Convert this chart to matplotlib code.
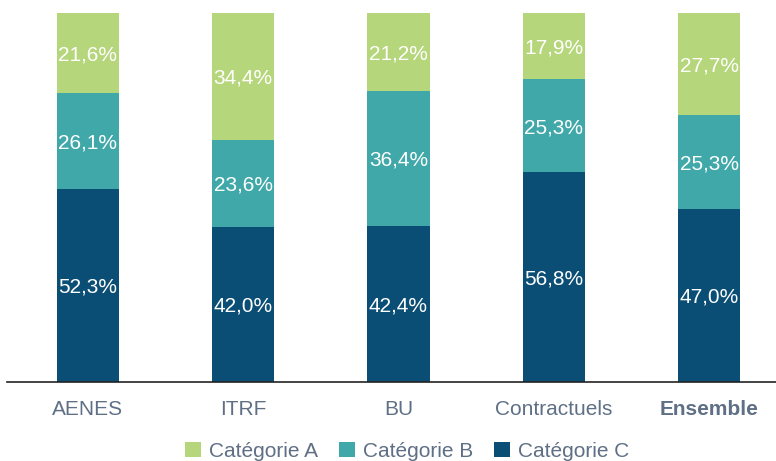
import matplotlib.pyplot as plt
import numpy as np

plt.rcParams['font.family'] = ['Liberation Sans', 'DejaVu Sans']

categories = ['AENES', 'ITRF', 'BU', 'Contractuels', 'Ensemble']
cat_c = [52.3, 42.0, 42.4, 56.8, 47.0]
cat_b = [26.1, 23.6, 36.4, 25.3, 25.3]
cat_a = [21.6, 34.4, 21.2, 17.9, 27.7]
series_names = ['Catégorie A', 'Catégorie B', 'Catégorie C']

col_a = '#b5d67a'
col_b = '#41a8a9'
col_c = '#0b4e75'
txt_col = '#5f6f85'

fig = plt.figure(figsize=(7.76, 4.61), dpi=100)
ax = fig.add_axes([7 / 776, 1 - 382 / 461, 769 / 776, 369 / 461])

x = np.arange(len(categories))
w = 0.40
bc = ax.bar(x, cat_c, w, color=col_c, label=series_names[2])
bb = ax.bar(x, cat_b, w, bottom=cat_c, color=col_b, label=series_names[1])
ba = ax.bar(x, cat_a, w, bottom=np.array(cat_c) + np.array(cat_b), color=col_a, label=series_names[0])

for bars, vals in [(bc, cat_c), (bb, cat_b), (ba, cat_a)]:
    for r, v in zip(bars, vals):
        ax.text(r.get_x() + r.get_width() / 2, r.get_y() + r.get_height() / 2 - 0.5,
                f'{v:.1f}%'.replace('.', ','), ha='center', va='center',
                color='white', fontsize=15)

ax.set_xlim(-0.52, 4.43)
ax.set_ylim(0, 100)
ax.set_yticks([])
ax.set_xticks(x)
ax.set_xticklabels(categories, fontsize=15, color=txt_col)
ax.get_xticklabels()[-1].set_fontweight('bold')
ax.tick_params(axis='x', length=0, pad=13)
for s in ['top', 'right', 'left']:
    ax.spines[s].set_visible(False)
ax.spines['bottom'].set_color('#222222')
ax.spines['bottom'].set_linewidth(1.2)

h = [ba, bb, bc]
leg = fig.legend(h, series_names, loc='lower center', bbox_to_anchor=(0.525, -0.04),
                 ncol=3, frameon=False, fontsize=15, handlelength=0.75, handleheight=0.75,
                 handletextpad=0.4, columnspacing=1.0)
for t in leg.get_texts():
    t.set_color(txt_col)

fig.savefig('out.png', dpi=100)
